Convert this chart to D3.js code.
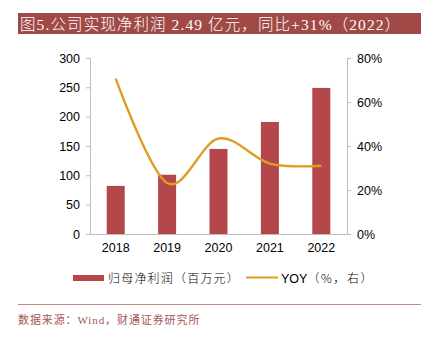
<!DOCTYPE html>
<html>
<head>
<meta charset="utf-8">
<script src="https://cdn.jsdelivr.net/npm/d3@7"></script>
<style>
body { margin:0; background:#fff; }
</style>
</head>
<body>
<div id="chart"></div>
<script>
const years = ['2018','2019','2020','2021','2022']
const profit = [82, 101, 145, 191, 249]
const yoy = [70.6, 23.2, 43.4, 32.0, 31.0]
const leftTicks = [0, 50, 100, 150, 200, 250, 300]
const rightTicks = [0, 20, 40, 60, 80]

const width = 423
const height = 340
const margin = { top: 58, left: 90, right: 76, bottom: 106 }
const innerWidth = width - margin.left - margin.right
const innerHeight = height - margin.top - margin.bottom

const svg = d3.select('#chart').append('svg')
  .attr('width', width).attr('height', height)

const sans = '"Liberation Sans", Arial, sans-serif'
const cjk = '"Liberation Serif", "Noto Sans CJK SC", serif'

// title bar
svg.append('rect')
  .attr('x', 18).attr('y', 13).attr('width', 403).attr('height', 21)
  .attr('fill', '#A04946')
svg.append('text')
  .text('图5.公司实现净利润 2.49 亿元，同比+31%（2022）')
  .attr('x', 20).attr('y', 29.5)
  .attr('fill', '#fff')
  .style('font-family', cjk)
  .style('font-size', '15.5px')
  .style('font-weight', 300)
  .style('letter-spacing', '1.1px')

const g = svg.append('g').attr('transform', `translate(${margin.left},${margin.top})`)

const xScale = d3.scaleBand().domain(years).range([0, innerWidth])
const yLeft = d3.scaleLinear().domain([0, 300]).range([innerHeight, 0])
const yRight = d3.scaleLinear().domain([0, 80]).range([innerHeight, 0])

// bars
g.selectAll('rect.bar').data(profit).enter().append('rect')
  .attr('class', 'bar')
  .attr('x', (d, i) => xScale(years[i]) + xScale.bandwidth() / 2 - 9)
  .attr('width', 18)
  .attr('y', d => yLeft(d))
  .attr('height', d => innerHeight - yLeft(d))
  .attr('fill', '#B3474A')

// axes
const leftAxis = g.append('g')
  .call(d3.axisLeft(yLeft).tickValues(leftTicks).tickSize(4).tickPadding(6))
const rightAxis = g.append('g')
  .attr('transform', `translate(${innerWidth},0)`)
  .call(d3.axisRight(yRight).tickValues(rightTicks).tickSize(4).tickPadding(6).tickFormat(d => d + '%'))
const xAxis = g.append('g')
  .attr('transform', `translate(0,${innerHeight})`)
  .call(d3.axisBottom(xScale).tickSize(0).tickPadding(9).tickSizeOuter(0))

;[leftAxis, rightAxis, xAxis].forEach(a => {
  a.selectAll('path,line').attr('stroke', '#BDBDBD')
  a.selectAll('text').attr('fill', '#000').style('font-family', sans).style('font-size', '12.5px')
})

// yoy line
const line = d3.line()
  .x((d, i) => xScale(years[i]) + xScale.bandwidth() / 2)
  .y(d => yRight(d))
  .curve(d3.curveCatmullRom.alpha(0))
g.append('path')
  .datum(yoy)
  .attr('d', line)
  .attr('fill', 'none')
  .attr('stroke', '#DE9E22')
  .attr('stroke-width', 2.4)

// legend
svg.append('rect').attr('x', 73).attr('y', 275).attr('width', 31).attr('height', 6).attr('fill', '#B3474A')
svg.append('text').text('归母净利润（百万元）')
  .attr('x', 108).attr('y', 282.5)
  .style('font-family', '"Noto Sans CJK SC", sans-serif').style('font-size', '12px')
  .style('font-weight', 300).style('letter-spacing', '1.2px').attr('fill', '#000')
svg.append('line').attr('x1', 246).attr('x2', 278).attr('y1', 277.5).attr('y2', 277.5)
  .attr('stroke', '#DE9E22').attr('stroke-width', 2)
const yoyLabel = svg.append('text')
  .attr('x', 281).attr('y', 282.5)
  .style('font-family', '"Liberation Sans", "Noto Sans CJK SC", sans-serif').style('font-size', '12.5px')
  .attr('fill', '#000')
yoyLabel.append('tspan').text('YOY')
yoyLabel.append('tspan').text('（%，右）')
  .style('font-family', '"Noto Sans CJK SC", sans-serif').style('font-size', '12px')
  .style('font-weight', 300).style('letter-spacing', '1.6px')

// footer
svg.append('line').attr('x1', 18).attr('x2', 421).attr('y1', 304.5).attr('y2', 304.5)
  .attr('stroke', '#C48A88').attr('stroke-width', 1)
svg.append('text').text('数据来源：Wind，财通证券研究所')
  .attr('x', 18).attr('y', 324)
  .style('font-family', cjk).style('font-size', '11px')
  .style('letter-spacing', '0.9px').attr('fill', '#A65553')
</script>
</body>
</html>
